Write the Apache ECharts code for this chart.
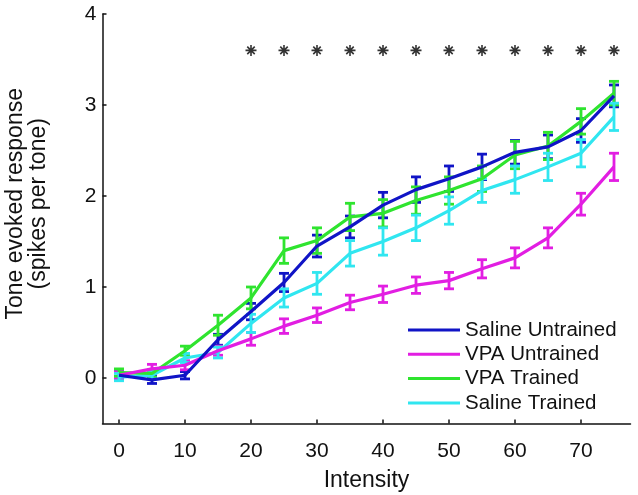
<!DOCTYPE html>
<html>
<head>
<meta charset="utf-8">
<script src="https://cdn.jsdelivr.net/npm/echarts@6/dist/echarts.min.js"></script>
<style>
html,body{margin:0;padding:0;background:#fff;}
#chart{width:638px;height:495px;}
</style>
</head>
<body>
<div id="chart"></div>
<script>
// ---- data ----
const intensity = [0, 5, 10, 15, 20, 25, 30, 35, 40, 45, 50, 55, 60, 65, 70, 75];
const salineUntrained    = [0.03, -0.02, 0.03, 0.42, 0.73, 1.05, 1.45, 1.66, 1.90, 2.07, 2.19, 2.32, 2.48, 2.54, 2.72, 3.10];
const salineUntrainedErr = [0.04, 0.04, 0.04, 0.06, 0.09, 0.10, 0.12, 0.12, 0.14, 0.14, 0.14, 0.14, 0.13, 0.13, 0.13, 0.12];
const vpaUntrained       = [0.03, 0.10, 0.14, 0.30, 0.43, 0.57, 0.69, 0.83, 0.92, 1.02, 1.07, 1.20, 1.32, 1.54, 1.91, 2.32];
const vpaUntrainedErr    = [0.04, 0.05, 0.05, 0.05, 0.07, 0.08, 0.08, 0.08, 0.09, 0.09, 0.09, 0.10, 0.11, 0.11, 0.12, 0.15];
const vpaTrained         = [0.06, 0.05, 0.30, 0.58, 0.88, 1.40, 1.51, 1.77, 1.81, 1.95, 2.06, 2.19, 2.45, 2.55, 2.82, 3.13];
const vpaTrainedErr      = [0.04, 0.04, 0.05, 0.11, 0.12, 0.14, 0.14, 0.15, 0.15, 0.15, 0.15, 0.14, 0.15, 0.15, 0.14, 0.13];
const salineTrained      = [0.01, 0.03, 0.22, 0.28, 0.60, 0.88, 1.04, 1.37, 1.50, 1.65, 1.84, 2.06, 2.18, 2.32, 2.47, 2.87];
const salineTrainedErr   = [0.04, 0.04, 0.05, 0.06, 0.10, 0.10, 0.12, 0.14, 0.15, 0.14, 0.15, 0.13, 0.15, 0.15, 0.15, 0.15];
const seriesNames = ['Saline Untrained', 'VPA Untrained', 'VPA Trained', 'Saline Trained'];
const xTicks = [0, 10, 20, 30, 40, 50, 60, 70];
const yTicks = [0, 1, 2, 3, 4];
const starX = [20, 25, 30, 35, 40, 45, 50, 55, 60, 65, 70, 75];
const starLevel = [3.6, 3.6, 3.6, 3.6, 3.6, 3.6, 3.6, 3.6, 3.6, 3.6, 3.6, 3.6];

// ---- styling ----
const colors = ['#1014c6', '#e21ee2', '#2fe42f', '#30e6f0'];
const means = [salineUntrained, vpaUntrained, vpaTrained, salineTrained];
const errs = [salineUntrainedErr, vpaUntrainedErr, vpaTrainedErr, salineTrainedErr];
const FONT = '"Liberation Sans", Arial, Helvetica, sans-serif';

function errSeries(i) {
  const data = intensity.map((x, k) => [x, means[i][k] - errs[i][k], means[i][k] + errs[i][k]]);
  const c = colors[i];
  return {
    type: 'custom',
    name: seriesNames[i] + ' err',
    z: 2,
    silent: true,
    data: data,
    encode: { x: 0, y: [1, 2] },
    renderItem: function (params, api) {
      const x = api.value(0);
      const lo = api.coord([x, api.value(1)]);
      const hi = api.coord([x, api.value(2)]);
      const w = 5;
      const st = { stroke: c, lineWidth: 2.8 };
      return {
        type: 'group',
        children: [
          { type: 'line', shape: { x1: lo[0], y1: lo[1], x2: hi[0], y2: hi[1] }, style: st },
          { type: 'line', shape: { x1: lo[0] - w, y1: lo[1], x2: lo[0] + w, y2: lo[1] }, style: st },
          { type: 'line', shape: { x1: hi[0] - w, y1: hi[1], x2: hi[0] + w, y2: hi[1] }, style: st }
        ]
      };
    }
  };
}

function lineSeries(i, z) {
  return {
    type: 'line',
    name: seriesNames[i],
    z: z,
    data: intensity.map((x, k) => [x, means[i][k]]),
    symbol: 'none',
    lineStyle: { color: colors[i], width: 3.2 },
    itemStyle: { color: colors[i] },
    emphasis: { disabled: true },
    animation: false
  };
}

const series = [];
for (let i = 0; i < 4; i++) series.push(errSeries(i));
series.push(lineSeries(3, 3));
series.push(lineSeries(2, 4));
series.push(lineSeries(1, 5));
series.push(lineSeries(0, 6));
series.push({
  type: 'scatter',
  name: 'stars',
  z: 7,
  data: starX.map((x, k) => [x, starLevel[k]]),
  symbol: 'path://M0,5L10,5M5,0L5,10M1.6,1.6L8.4,8.4M8.4,1.6L1.6,8.4',
  symbolSize: 11,
  itemStyle: { color: 'none', borderColor: '#000', borderWidth: 1.6 },
  silent: true
});

const option = {
  backgroundColor: '#ffffff',
  animation: false,
  textStyle: { fontFamily: FONT },
  grid: { left: 102.5, right: 7.5, top: 14, bottom: 71.5, containLabel: false, outerBoundsMode: 'none' },
  legend: {
    data: seriesNames,
    orient: 'vertical',
    left: 408,
    top: 319.5,
    padding: 0,
    icon: 'rect',
    itemWidth: 52,
    itemHeight: 3,
    itemGap: 3.3,
    selectedMode: false,
    textStyle: { fontFamily: FONT, fontSize: 20.5, color: '#111', lineHeight: 20.5, padding: [0, 0, 0, 0] }
  },
  xAxis: {
    type: 'value',
    min: -2.5,
    max: 77.5,
    name: 'Intensity',
    nameLocation: 'middle',
    nameGap: 46,
    nameTextStyle: { fontFamily: FONT, fontSize: 23, color: '#111' },
    axisLine: { onZero: false, lineStyle: { color: '#111', width: 1.5 } },
    axisTick: { inside: true, length: 4, customValues: xTicks, lineStyle: { color: '#111', width: 1.5 } },
    axisLabel: { customValues: xTicks, fontFamily: FONT, fontSize: 21, color: '#111', margin: 17 },
    splitLine: { show: false }
  },
  yAxis: {
    type: 'value',
    min: -0.5,
    max: 4,
    name: 'Tone evoked response\n(spikes per tone)',
    nameLocation: 'middle',
    nameGap: 53,
    nameTextStyle: { fontFamily: FONT, fontSize: 23, color: '#111', lineHeight: 22.5, padding: [0, 0, 0, 30] },
    axisLine: { show: true, onZero: false, lineStyle: { color: '#111', width: 1.5 } },
    axisTick: { show: true, inside: true, length: 4, customValues: yTicks, lineStyle: { color: '#111', width: 1.5 } },
    axisLabel: { customValues: yTicks, fontFamily: FONT, fontSize: 21, color: '#111', margin: 6 },
    splitLine: { show: false }
  },
  series: series
};

const chart = echarts.init(document.getElementById('chart'), null, { renderer: 'canvas' });
chart.setOption(option);
</script>
</body>
</html>
